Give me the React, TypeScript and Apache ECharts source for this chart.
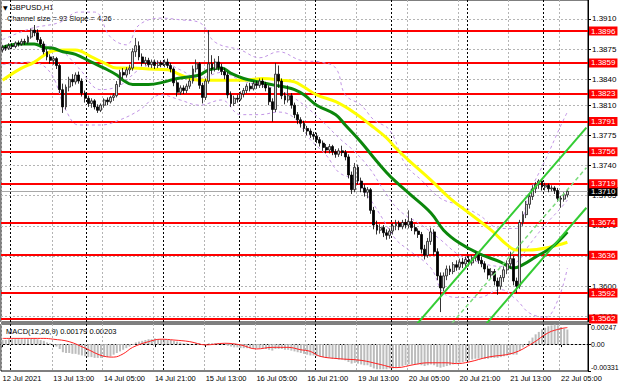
import React, { useEffect, useRef } from "react";
import * as echarts from "echarts";

const TITLE = "GBPUSD,H1";
const CHANNEL_TEXT = "Channel size = 93 Slope = 4.26";
const MACD_TEXT = "MACD(12,26,9) 0.00179 0.00203";

// trading sessions: [day, first hour, number of hourly bars] (last 6 are empty space on the right)
const sessions: [string, number, number][] = [
  ["12 Jul", 21, 3], ["13 Jul", 0, 24], ["14 Jul", 0, 24], ["15 Jul", 0, 24], ["16 Jul", 0, 24],
  ["19 Jul", 0, 24], ["20 Jul", 0, 24], ["21 Jul", 0, 24], ["22 Jul", 0, 14],
];
const xTickLabels = [
  "12 Jul 2021", "13 Jul 13:00", "14 Jul 05:00", "14 Jul 21:00", "15 Jul 13:00", "16 Jul 05:00",
  "16 Jul 21:00", "19 Jul 13:00", "20 Jul 05:00", "20 Jul 21:00", "21 Jul 13:00", "22 Jul 05:00",
];
const LABEL_STEP = 16;

const PRICE_MIN = 1.35585;
const PRICE_MAX = 1.3932;
const priceTicks = [1.3565, 1.3600, 1.3635, 1.3670, 1.3705, 1.3740, 1.3775, 1.3810, 1.3840, 1.3875, 1.3910];
const levels = [1.3896, 1.3859, 1.3823, 1.3791, 1.3756, 1.3719, 1.3674, 1.3636, 1.3592, 1.3562];
const lastPrice = 1.3710;
const MACD_MIN = -0.00331;
const MACD_MAX = 0.00247;
const macdTicks = [MACD_MIN, 0, MACD_MAX];

// [open, close, low, high]
const candles = [
  [1.3874,1.3877,1.3871,1.3880],[1.3877,1.3876,1.3873,1.3880],[1.3876,1.3879,1.3874,1.3882],[1.3879,1.3878,1.3875,1.3882],
  [1.3878,1.3882,1.3876,1.3884],[1.3882,1.3881,1.3878,1.3885],[1.3881,1.3884,1.3879,1.3887],[1.3884,1.3883,1.3880,1.3887],
  [1.3883,1.3889,1.3881,1.3891],[1.3889,1.3897,1.3887,1.3899],[1.3897,1.3894,1.3890,1.3903],[1.3894,1.3886,1.3883,1.3898],
  [1.3886,1.3881,1.3878,1.3889],[1.3881,1.3872,1.3869,1.3884],[1.3872,1.3866,1.3862,1.3875],[1.3866,1.3862,1.3858,1.3869],
  [1.3862,1.3864,1.3857,1.3867],[1.3864,1.3856,1.3852,1.3866],[1.3856,1.3828,1.3824,1.3858],[1.3828,1.3808,1.3801,1.3835],
  [1.3808,1.3831,1.3805,1.3834],[1.3831,1.3840,1.3826,1.3843],[1.3840,1.3837,1.3832,1.3846],[1.3837,1.3845,1.3834,1.3848],
  [1.3845,1.3838,1.3835,1.3849],[1.3838,1.3824,1.3820,1.3841],[1.3824,1.3818,1.3813,1.3827],[1.3818,1.3812,1.3808,1.3821],
  [1.3812,1.3815,1.3807,1.3818],[1.3815,1.3808,1.3805,1.3817],[1.3808,1.3804,1.3801,1.3811],[1.3804,1.3810,1.3802,1.3812],
  [1.3810,1.3816,1.3807,1.3818],[1.3816,1.3814,1.3810,1.3819],[1.3814,1.3819,1.3812,1.3821],[1.3819,1.3821,1.3815,1.3824],
  [1.3821,1.3834,1.3819,1.3838],[1.3834,1.3848,1.3831,1.3851],[1.3848,1.3845,1.3841,1.3853],[1.3845,1.3851,1.3842,1.3854],
  [1.3851,1.3853,1.3846,1.3857],[1.3853,1.3872,1.3850,1.3876],[1.3872,1.3879,1.3866,1.3888],[1.3879,1.3866,1.3862,1.3884],
  [1.3866,1.3859,1.3855,1.3870],[1.3859,1.3862,1.3856,1.3866],[1.3862,1.3857,1.3854,1.3865],[1.3857,1.3860,1.3853,1.3863],
  [1.3860,1.3856,1.3852,1.3863],[1.3856,1.3859,1.3853,1.3862],[1.3859,1.3857,1.3854,1.3862],[1.3857,1.3860,1.3854,1.3863],
  [1.3860,1.3856,1.3853,1.3864],[1.3856,1.3852,1.3848,1.3859],[1.3852,1.3836,1.3832,1.3854],[1.3836,1.3825,1.3820,1.3839],
  [1.3825,1.3830,1.3822,1.3833],[1.3830,1.3827,1.3823,1.3833],[1.3827,1.3832,1.3824,1.3835],[1.3832,1.3838,1.3829,1.3841],
  [1.3838,1.3852,1.3835,1.3856],[1.3852,1.3858,1.3848,1.3863],[1.3858,1.3833,1.3829,1.3860],[1.3833,1.3819,1.3812,1.3836],
  [1.3819,1.3838,1.3816,1.3841],[1.3838,1.3858,1.3835,1.3897],[1.3858,1.3852,1.3846,1.3868],[1.3852,1.3860,1.3849,1.3864],
  [1.3860,1.3854,1.3850,1.3867],[1.3854,1.3849,1.3845,1.3858],[1.3849,1.3845,1.3840,1.3853],[1.3845,1.3822,1.3818,1.3848],
  [1.3822,1.3812,1.3808,1.3826],[1.3812,1.3818,1.3809,1.3821],[1.3818,1.3817,1.3813,1.3822],[1.3817,1.3823,1.3815,1.3826],
  [1.3823,1.3827,1.3819,1.3830],[1.3827,1.3832,1.3824,1.3835],[1.3832,1.3829,1.3826,1.3836],[1.3829,1.3835,1.3827,1.3838],
  [1.3835,1.3833,1.3829,1.3838],[1.3833,1.3838,1.3830,1.3841],[1.3838,1.3834,1.3830,1.3841],[1.3834,1.3830,1.3826,1.3837],
  [1.3830,1.3814,1.3810,1.3833],[1.3814,1.3805,1.3791,1.3818],[1.3805,1.3846,1.3802,1.3859],[1.3846,1.3838,1.3830,1.3856],
  [1.3838,1.3821,1.3817,1.3841],[1.3821,1.3816,1.3811,1.3825],[1.3816,1.3821,1.3813,1.3833],[1.3821,1.3810,1.3806,1.3824],
  [1.3810,1.3799,1.3795,1.3813],[1.3799,1.3793,1.3788,1.3802],[1.3793,1.3789,1.3784,1.3796],[1.3789,1.3783,1.3779,1.3792],
  [1.3783,1.3780,1.3775,1.3786],[1.3780,1.3776,1.3772,1.3783],[1.3776,1.3774,1.3770,1.3779],[1.3774,1.3770,1.3766,1.3778],
  [1.3770,1.3766,1.3762,1.3773],[1.3766,1.3761,1.3757,1.3769],[1.3761,1.3758,1.3754,1.3765],[1.3758,1.3762,1.3754,1.3765],
  [1.3762,1.3756,1.3752,1.3764],[1.3756,1.3753,1.3749,1.3759],[1.3753,1.3757,1.3750,1.3760],[1.3757,1.3755,1.3751,1.3763],
  [1.3755,1.3750,1.3746,1.3758],[1.3750,1.3729,1.3725,1.3753],[1.3729,1.3712,1.3707,1.3733],[1.3712,1.3738,1.3709,1.3743],
  [1.3738,1.3722,1.3718,1.3741],[1.3722,1.3714,1.3709,1.3726],[1.3714,1.3709,1.3704,1.3718],[1.3709,1.3712,1.3702,1.3715],
  [1.3712,1.3688,1.3684,1.3714],[1.3688,1.3671,1.3666,1.3692],[1.3671,1.3665,1.3660,1.3676],[1.3665,1.3668,1.3661,1.3672],
  [1.3668,1.3662,1.3657,1.3671],[1.3662,1.3659,1.3654,1.3666],[1.3659,1.3664,1.3655,1.3667],[1.3664,1.3670,1.3660,1.3673],
  [1.3670,1.3673,1.3665,1.3677],[1.3673,1.3669,1.3665,1.3676],[1.3669,1.3674,1.3666,1.3677],[1.3674,1.3671,1.3667,1.3678],
  [1.3671,1.3675,1.3667,1.3688],[1.3675,1.3668,1.3664,1.3679],[1.3668,1.3664,1.3660,1.3672],[1.3664,1.3660,1.3656,1.3667],
  [1.3660,1.3643,1.3638,1.3663],[1.3643,1.3636,1.3631,1.3648],[1.3636,1.3652,1.3633,1.3656],[1.3652,1.3663,1.3648,1.3668],
  [1.3663,1.3640,1.3636,1.3666],[1.3640,1.3612,1.3607,1.3644],[1.3612,1.3598,1.3570,1.3616],[1.3598,1.3612,1.3594,1.3616],
  [1.3612,1.3620,1.3607,1.3624],[1.3620,1.3617,1.3613,1.3624],[1.3617,1.3625,1.3614,1.3628],[1.3625,1.3622,1.3618,1.3630],
  [1.3622,1.3628,1.3619,1.3632],[1.3628,1.3626,1.3621,1.3633],[1.3626,1.3631,1.3622,1.3634],[1.3631,1.3627,1.3623,1.3635],
  [1.3627,1.3633,1.3624,1.3636],[1.3633,1.3636,1.3629,1.3640],[1.3636,1.3630,1.3626,1.3639],[1.3630,1.3626,1.3622,1.3634],
  [1.3626,1.3620,1.3616,1.3629],[1.3620,1.3613,1.3608,1.3624],[1.3613,1.3617,1.3609,1.3621],[1.3617,1.3606,1.3601,1.3620],
  [1.3606,1.3600,1.3590,1.3610],[1.3600,1.3610,1.3596,1.3613],[1.3610,1.3619,1.3605,1.3623],[1.3619,1.3626,1.3614,1.3630],
  [1.3626,1.3632,1.3620,1.3640],[1.3632,1.3606,1.3601,1.3635],[1.3606,1.3600,1.3592,1.3610],[1.3600,1.3674,1.3597,1.3677],
  [1.3674,1.3683,1.3670,1.3687],[1.3683,1.3695,1.3679,1.3699],[1.3695,1.3704,1.3690,1.3708],[1.3704,1.3713,1.3700,1.3717],
  [1.3713,1.3718,1.3708,1.3721],[1.3718,1.3722,1.3713,1.3724],[1.3722,1.3715,1.3711,1.3724],[1.3715,1.3717,1.3711,1.3720],
  [1.3717,1.3713,1.3709,1.3719],[1.3713,1.3714,1.3710,1.3717],[1.3714,1.3711,1.3707,1.3716],[1.3711,1.3702,1.3698,1.3714],
  [1.3702,1.3701,1.3691,1.3705],[1.3701,1.3706,1.3698,1.3709],[1.3706,1.3710,1.3703,1.3712],
];

// [bar index, price]
const greenMA = [
  [0,1.3877],[5,1.3881],[10,1.3881],[13,1.3877],[16,1.3876],[19,1.3872],[23,1.3869],[28,1.3860],[32,1.3853],
  [36,1.3845],[38,1.3839],[41,1.3834],[46,1.3834],[51,1.3837],[55,1.3841],[59,1.3843],[62,1.3845],[65,1.3851],
  [69,1.3853],[72,1.3847],[76,1.3841],[82,1.3836],[86,1.3833],[89,1.3831],[92,1.3828],[95,1.3822],[99,1.3810],
  [105,1.3799],[108,1.3787],[113,1.3767],[117,1.3749],[121,1.3732],[124,1.3721],[128,1.3708],[135,1.3685],
  [139,1.3665],[144,1.3650],[150,1.3638],[157,1.3628],[161,1.3621],[164,1.3625],[168,1.3634],[173,1.3645],[178,1.3663],
];
const yellowMA = [
  [0,1.3839],[5,1.3851],[10,1.3860],[15,1.3872],[19,1.3874],[23,1.3874],[28,1.3866],[32,1.3859],[36,1.3853],
  [41,1.3853],[46,1.3852],[52,1.3851],[55,1.3847],[59,1.3841],[62,1.3839],[71,1.3839],[76,1.3839],[82,1.3841],
  [88,1.3839],[92,1.3837],[95,1.3831],[99,1.3822],[105,1.3814],[111,1.3801],[116,1.3787],[121,1.3772],[124,1.3760],
  [128,1.3746],[135,1.3723],[141,1.3702],[147,1.3685],[154,1.3665],[159,1.3648],[162,1.3642],[166,1.3642],[172,1.3645],[178,1.3651],
];
const bandUpper = [
  [0,1.3886],[9,1.3899],[18,1.3906],[24,1.3918],[29,1.3918],[34,1.3889],[39,1.3880],[43,1.3903],[50,1.3911],
  [56,1.3909],[62,1.3906],[67,1.3883],[75,1.3874],[81,1.3865],[87,1.3872],[94,1.3862],[100,1.3860],[105,1.3853],
  [108,1.3822],[113,1.3810],[117,1.3793],[122,1.3781],[127,1.3741],[132,1.3723],[138,1.3702],[144,1.3694],
  [150,1.3683],[157,1.3667],[162,1.3667],[166,1.3708],[171,1.3746],[176,1.3787],[178,1.3802],
];
const bandMiddle = [
  [0,1.3874],[9,1.3881],[18,1.3874],[24,1.3853],[31,1.3828],[37,1.3833],[43,1.3851],[50,1.3860],[56,1.3851],
  [62,1.3841],[69,1.3848],[75,1.3839],[81,1.3833],[87,1.3828],[92,1.3818],[97,1.3804],[102,1.3787],[106,1.3772],
  [111,1.3756],[116,1.3735],[120,1.3712],[125,1.3688],[132,1.3671],[138,1.3654],[144,1.3636],[150,1.3628],
  [157,1.3623],[162,1.3628],[166,1.3648],[171,1.3671],[176,1.3691],[178,1.3700],
];
const bandLower = [
  [0,1.3857],[9,1.3860],[15,1.3848],[20,1.3804],[24,1.3787],[31,1.3787],[37,1.3793],[43,1.3804],[50,1.3822],
  [56,1.3816],[62,1.3810],[69,1.3816],[75,1.3799],[81,1.3799],[87,1.3802],[92,1.3795],[97,1.3770],[102,1.3752],
  [106,1.3732],[111,1.3723],[116,1.3700],[120,1.3677],[124,1.3654],[128,1.3642],[135,1.3621],[139,1.3592],
  [144,1.3587],[150,1.3587],[157,1.3596],[162,1.3584],[166,1.3569],[171,1.3564],[175,1.3584],[178,1.3621],
];
const channelUpper = [[120,1.3511],[184,1.3784]];
const channelMiddle = [[120,1.3465],[184,1.37375]];
const channelLower = [[120,1.3418],[184,1.3691]];

const macdHist = [
  0.0005,0.0005,0.0006,0.0006,0.0006,0.0006,0.0006,0.0006,0.0006,0.0007,0.0007,0.0006,0.0005,0.0004,
  0.0002,0.0001,-0.0001,
  -0.0003,-0.0006,-0.0010,-0.0011,-0.0011,-0.0012,-0.0012,-0.0013,
  -0.0014,-0.0015,-0.0016,-0.0016,-0.0017,-0.0017,-0.0017,-0.0016,-0.0016,-0.0015,
  -0.0013,-0.0011,-0.0009,-0.0007,-0.0005,-0.0003,-0.0001,0.0002,0.0003,
  0.0004,0.0005,0.0006,0.0006,0.0007,0.0006,0.0006,0.0006,0.0005,
  0.0005,0.0004,0.0003,0.0002,0.0001,0.0001,0.0000,0.0000,0.0001,0.0001,
  -0.0001,-0.0001,0.0001,0.0001,0.0001,0.0001,0.0000,0.0000,
  -0.0002,-0.0003,-0.0004,-0.0004,-0.0005,-0.0005,-0.0005,-0.0005,-0.0005,-0.0005,-0.0005,-0.0005,-0.0006,
  -0.0007,-0.0008,-0.0006,-0.0006,-0.0006,-0.0007,-0.0007,-0.0008,-0.0009,-0.0010,
  -0.0011,-0.0012,-0.0013,-0.0014,-0.0014,-0.0015,-0.0015,-0.0016,-0.0017,-0.0017,-0.0018,-0.0018,-0.0019,-0.0019,-0.0020,-0.0022,-0.0024,-0.0023,-0.0024,
  -0.0025,-0.0026,-0.0026,-0.0028,-0.0030,-0.0031,-0.0031,-0.0031,-0.0031,-0.0030,-0.0030,-0.0029,-0.0028,
  -0.0027,-0.0026,-0.0025,-0.0025,-0.0025,-0.0025,-0.0026,-0.0027,-0.0026,-0.0025,-0.0026,-0.0028,
  -0.0029,-0.0028,-0.0027,-0.0026,-0.0025,-0.0024,-0.0023,-0.0022,-0.0021,-0.0020,-0.0019,-0.0018,-0.0018,-0.0018,-0.0018,
  -0.0018,-0.0017,-0.0017,-0.0017,-0.0016,-0.0015,-0.0014,-0.0013,-0.0013,-0.0013,
  -0.0008,-0.0004,0.0000,0.0004,0.0008,0.0012,0.0015,0.0018,0.0020,0.0022,0.0023,0.0024,0.0023,0.0021,0.0019,0.00179,
];
const macdSignal = [
  [0,0.0007],[13,0.0007],[16,0.0006],[21,0.0003],[26,-0.0005],[32,-0.0015],[35,-0.0016],[38,-0.0012],[41,-0.0004],
  [46,0.0003],[50,0.0006],[54,0.0005],[59,0.0003],[64,-0.0001],[70,0.0001],[75,-0.0001],[80,-0.0006],[85,-0.0004],
  [90,-0.0004],[94,-0.0007],[97,-0.0009],[100,-0.0015],[106,-0.0018],[113,-0.0020],[119,-0.0025],[124,-0.0029],
  [130,-0.0025],[134,-0.0023],[140,-0.0023],[143,-0.0024],[147,-0.0022],[153,-0.0016],[161,-0.0011],[167,0.0001],
  [172,0.0014],[176,0.0019],[178,0.00203],
];

const FONT = "'Liberation Sans', Arial, 'DejaVu Sans', sans-serif";

export default function App() {
  const ref = useRef<HTMLDivElement>(null);
  useEffect(() => {
    if (!ref.current) return;
    const chart = echarts.init(ref.current, null, { renderer: "svg" });

    const categories: string[] = [];
    for (const [d, h0, n] of sessions) {
      for (let h = h0; h < h0 + n; h++) categories.push(`${d} ${String(h).padStart(2, "0")}:00`);
    }
    const isDayStart = (idx: number) => (categories[idx] || "").endsWith(" 00:00");
    const showAt = (idx: number) => idx % LABEL_STEP === 0 && idx / LABEL_STEP < xTickLabels.length;

    const grayDash = { color: "#b4b4b4", type: [2, 2], width: 1 };
    const blackDash = { color: "#000000", type: [2, 2], width: 1 };
    const noLabel = { show: false };
    const boxLabel = (text: string, bg: string) => ({
      show: true, position: "end", distance: 1, formatter: () => text,
      backgroundColor: bg, color: "#fff", fontSize: 8, padding: [1, 2, 0, 2], lineHeight: 8, fontFamily: FONT,
    });
    const hiddenX = (gridIndex: number, interval: (i: number) => boolean, lineStyle: object) => ({
      type: "category", gridIndex, data: categories, boundaryGap: true, position: "top",
      axisLine: { show: false }, axisTick: { show: false }, axisLabel: { show: false },
      splitLine: { show: true, interval: (i: number) => interval(i), lineStyle },
    });

    chart.setOption({
      animation: false,
      backgroundColor: "#fff",
      textStyle: { fontFamily: FONT },
      grid: [
        { left: 1, right: 32, top: 0, height: 322, show: true, borderColor: "#000", borderWidth: 1, outerBoundsMode: "none" },
        { left: 1, right: 32, top: 324, height: 47, show: true, borderColor: "#000", borderWidth: 1, outerBoundsMode: "none" },
      ],
      xAxis: [
        {
          type: "category", gridIndex: 0, data: categories, boundaryGap: true,
          axisLine: { show: false }, axisTick: { show: false }, axisLabel: { show: false },
          splitLine: { show: true, interval: (i: number) => showAt(i), lineStyle: grayDash },
        },
        {
          type: "category", gridIndex: 1, data: categories, boundaryGap: true,
          axisLine: { show: true, lineStyle: { color: "#000" } },
          axisTick: { show: true, alignWithLabel: true, interval: (idx: number) => showAt(idx), length: 3, lineStyle: { color: "#000" } },
          axisLabel: {
            show: true, interval: (idx: number) => showAt(idx), align: "left", margin: 3,
            fontSize: 7.5, color: "#000", fontFamily: FONT,
            formatter: (_v: string, idx: number) => xTickLabels[idx / LABEL_STEP] ?? "",
          },
          splitLine: { show: true, interval: (i: number) => showAt(i), lineStyle: grayDash },
        },
        hiddenX(0, isDayStart, blackDash),
        hiddenX(1, isDayStart, blackDash),
      ],
      yAxis: [
        {
          type: "value", gridIndex: 0, position: "right", min: PRICE_MIN, max: PRICE_MAX,
          axisLine: { show: true, lineStyle: { color: "#000" } },
          axisTick: { show: true, length: 3, customValues: priceTicks, lineStyle: { color: "#000" } },
          axisLabel: {
            show: true, customValues: priceTicks, margin: 4, fontSize: 8, color: "#000", fontFamily: FONT,
            formatter: (v: number) => v.toFixed(4),
          },
          splitLine: { show: false },
        },
        {
          type: "value", gridIndex: 1, position: "right", min: MACD_MIN, max: MACD_MAX,
          axisLine: { show: true, lineStyle: { color: "#000" } },
          axisTick: { show: true, length: 3, customValues: macdTicks, lineStyle: { color: "#000" } },
          axisLabel: {
            show: true, customValues: macdTicks, margin: 3, fontSize: 7, color: "#000", fontFamily: FONT,
            verticalAlignMinLabel: "bottom", verticalAlignMaxLabel: "top",
            formatter: (v: number) => (v === 0 ? "0.00" : v.toFixed(5)),
          },
          splitLine: { show: false },
        },
      ],
      graphic: [
        { type: "text", left: 3, top: 4, style: { text: "▼", fontSize: 6, fill: "#000", fontFamily: "'DejaVu Sans', sans-serif" } },
        { type: "text", left: 10, top: 3, style: { text: TITLE, fontSize: 7.5, fill: "#000", fontFamily: FONT } },
        { type: "text", left: 7, top: 14, style: { text: CHANNEL_TEXT, fontSize: 7.5, fill: "#000", fontFamily: FONT } },
        { type: "text", left: 6, top: 327, style: { text: MACD_TEXT, fontSize: 7.5, fill: "#000", fontFamily: FONT } },
      ],
      series: [
        {
          name: "bandUpper", type: "line", xAxisIndex: 0, yAxisIndex: 0, data: bandUpper, smooth: 0.4, showSymbol: false, z: 3,
          lineStyle: { color: "#c396e6", width: 1, type: [3, 3] }, silent: true,
          markLine: {
            silent: true, symbol: ["none", "none"], z: 1, label: noLabel, precision: 6,
            data: priceTicks.map((p) => ({ yAxis: p, lineStyle: grayDash })),
          },
        },
        {
          name: "bandMiddle", type: "line", xAxisIndex: 0, yAxisIndex: 0, data: bandMiddle, smooth: 0.4, showSymbol: false, z: 3,
          lineStyle: { color: "#c396e6", width: 1, type: [3, 3] }, silent: true,
          markLine: {
            silent: true, symbol: ["none", "none"], z: 2, precision: 6,
            data: [
              { yAxis: lastPrice, lineStyle: { color: "#a8a8a8", width: 1, type: "solid" }, label: boxLabel(lastPrice.toFixed(4), "#000") },
              ...levels.map((v) => ({
                yAxis: v,
                lineStyle: { color: "#ff0000", width: 2, type: "solid" },
                label: boxLabel(v.toFixed(4), "#ff0000"),
              })),
            ],
          },
        },
        {
          name: "bandLower", type: "line", xAxisIndex: 0, yAxisIndex: 0, data: bandLower, smooth: 0.4, showSymbol: false, z: 3,
          lineStyle: { color: "#c396e6", width: 1, type: [3, 3] }, silent: true,
        },
        {
          name: "yellowMA", type: "line", xAxisIndex: 0, yAxisIndex: 0, data: yellowMA, smooth: 0.4, showSymbol: false, z: 4,
          lineStyle: { color: "#ffff00", width: 3 }, silent: true,
        },
        {
          name: "greenMA", type: "line", xAxisIndex: 0, yAxisIndex: 0, data: greenMA, smooth: 0.4, showSymbol: false, z: 4,
          lineStyle: { color: "#0b870b", width: 3 }, silent: true,
        },
        {
          name: "candles", type: "candlestick", xAxisIndex: 0, yAxisIndex: 0, data: candles, barWidth: 2.4, z: 5,
          itemStyle: { color: "#d8d8d8", color0: "#000000", borderColor: "#1a1a1a", borderColor0: "#000000", borderWidth: 0.8 },
          silent: true,
        },
        {
          name: "channelUpper", type: "line", xAxisIndex: 0, yAxisIndex: 0, data: channelUpper, showSymbol: false, z: 6,
          lineStyle: { color: "#33cc33", width: 2 }, silent: true,
        },
        {
          name: "channelMiddle", type: "line", xAxisIndex: 0, yAxisIndex: 0, data: channelMiddle, showSymbol: false, z: 6,
          lineStyle: { color: "#7ddc7d", width: 1.5, type: [4, 3] }, silent: true,
        },
        {
          name: "channelLower", type: "line", xAxisIndex: 0, yAxisIndex: 0, data: channelLower, showSymbol: false, z: 6,
          lineStyle: { color: "#33cc33", width: 2 }, silent: true,
        },
        {
          name: "macd", type: "bar", xAxisIndex: 1, yAxisIndex: 1, data: macdHist, barWidth: 2, z: 3,
          itemStyle: { color: "#bcbcbc" }, silent: true,
          markLine: {
            silent: true, symbol: ["none", "none"], z: 1, label: noLabel, precision: 6,
            data: [{ yAxis: 0, lineStyle: grayDash }],
          },
        },
        {
          name: "signal", type: "line", xAxisIndex: 1, yAxisIndex: 1, data: macdSignal, smooth: 0.4, showSymbol: false, z: 4,
          lineStyle: { color: "#ff2020", width: 1 }, silent: true,
        },
      ],
    });
    return () => chart.dispose();
  }, []);
  return <div ref={ref} style={{ position: "fixed", left: 0, top: 0, width: 620, height: 388 }} />;
}
